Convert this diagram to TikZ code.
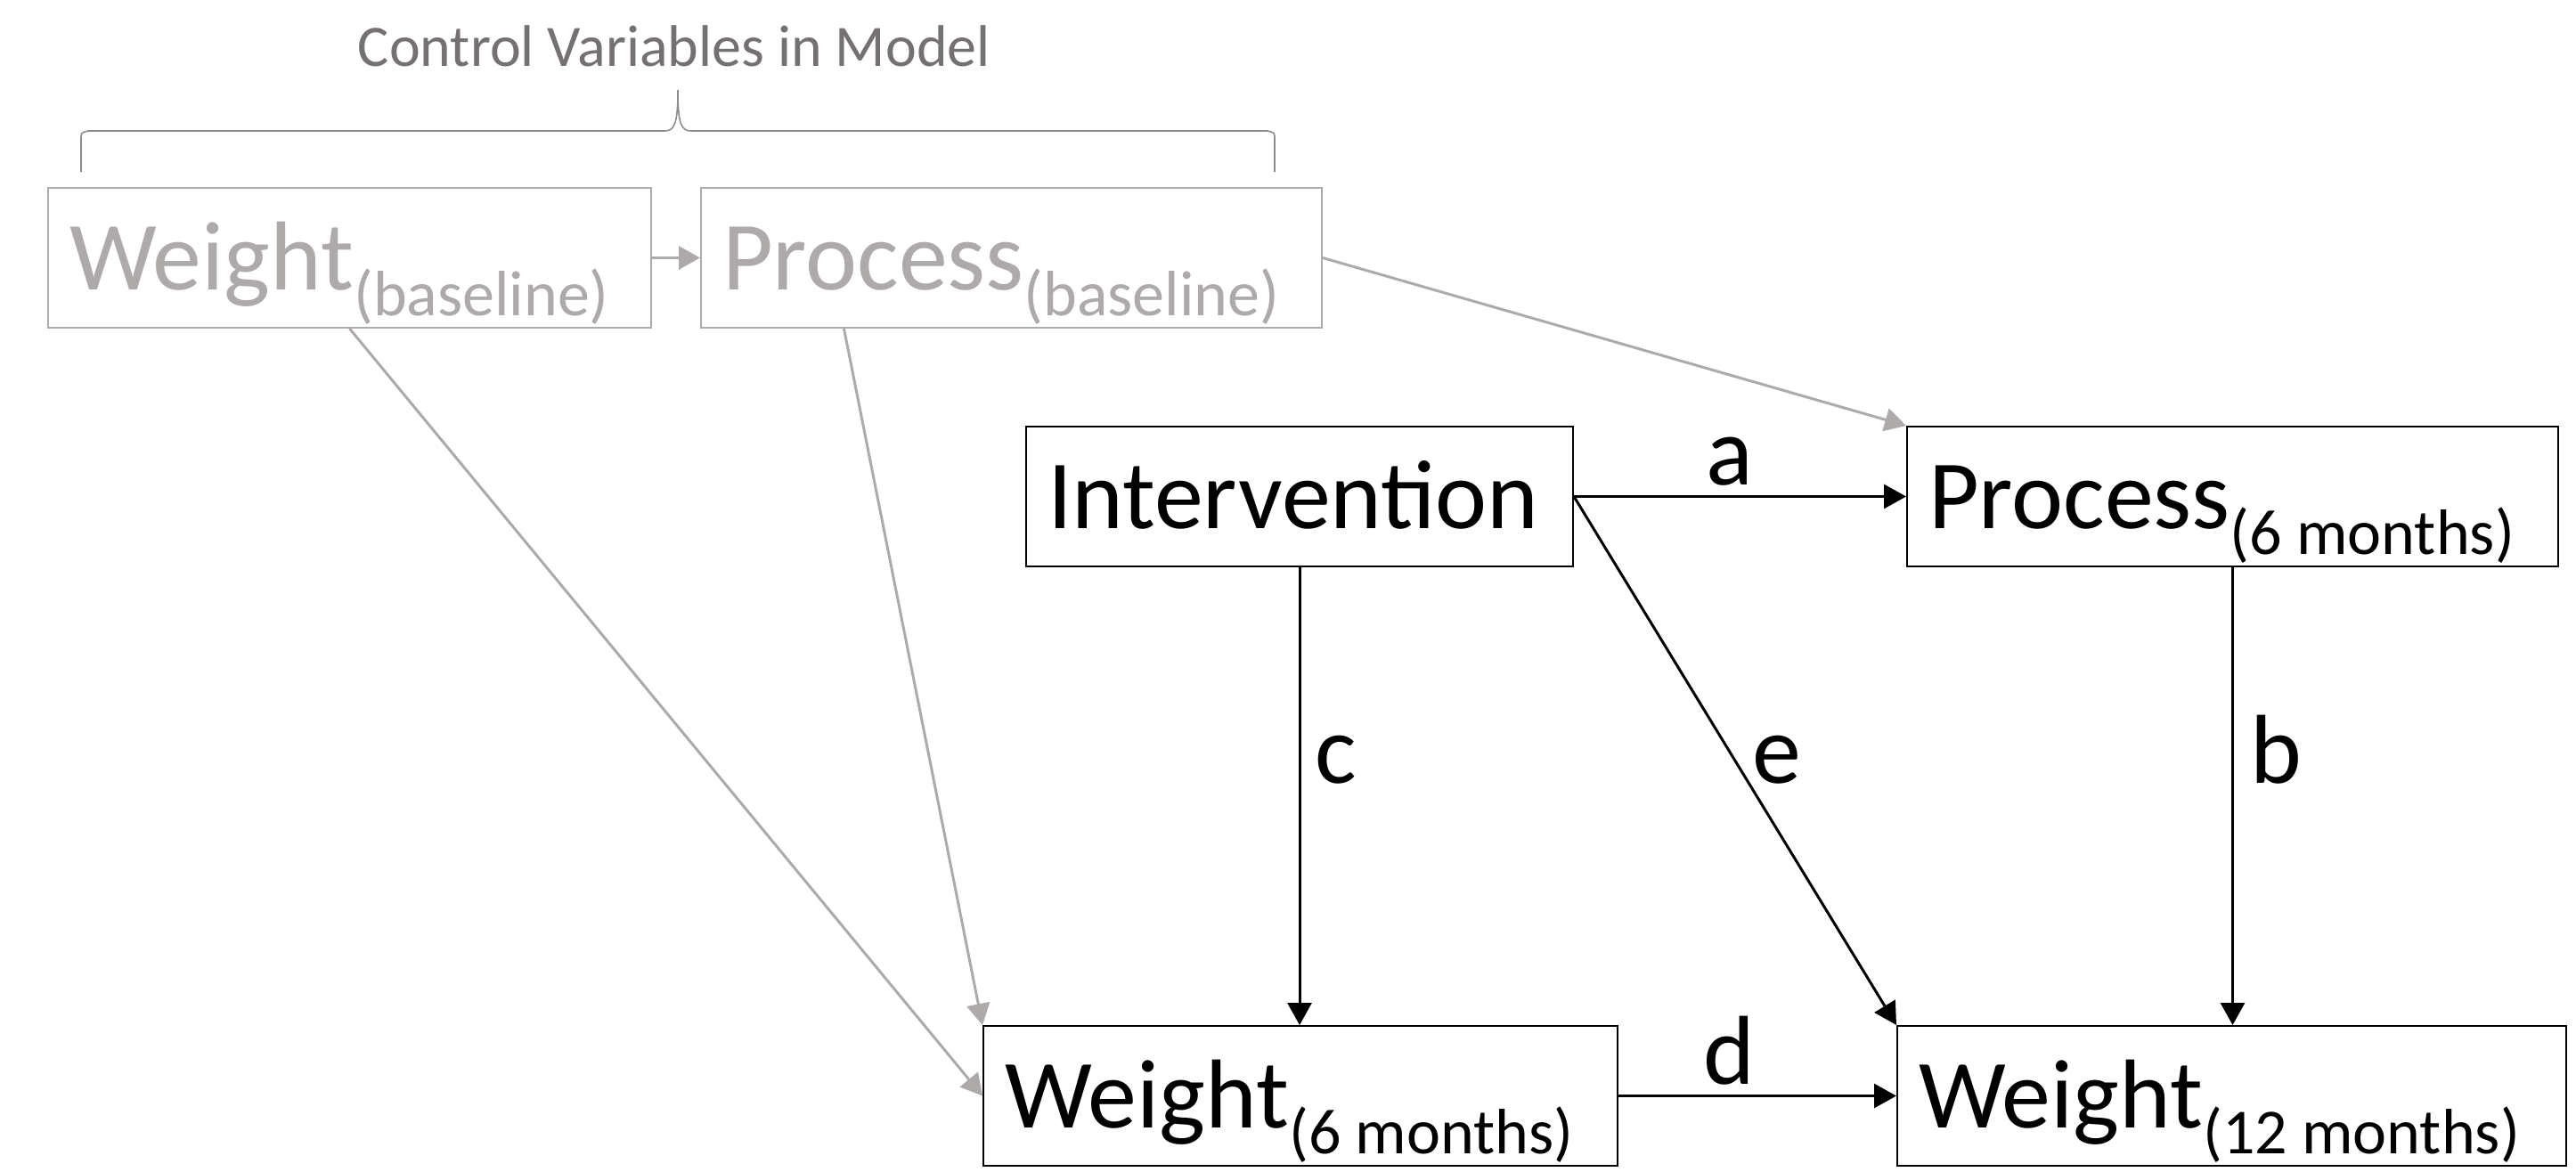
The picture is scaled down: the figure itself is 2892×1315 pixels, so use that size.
\documentclass[tikz,border=0pt]{standalone}
\usepackage{fontspec}
\setmainfont{Carlito}
\usetikzlibrary{arrows.meta,calc}
\definecolor{ltgray}{HTML}{AEAAAA}
\definecolor{dkgray}{HTML}{767171}
\definecolor{bracegray}{HTML}{8C8C8C}
\newcommand\lowsub[1]{\raisebox{-29pt}{\fontsize{72pt}{72pt}\selectfont\spaceskip=0pt\xspaceskip=0pt\relax #1}}
\tikzset{
  varbox/.style={draw, line width=2pt, anchor=north west, inner xsep=24pt, inner ysep=0pt,
    text height=114pt, text depth=43pt,
    font=\fontsize{110pt}{110pt}\selectfont},
  ctrlbox/.style={varbox, draw=ltgray, text=ltgray},
  mainbox/.style={varbox, draw=black, text=black},
  mainarrow/.style={draw=black, line width=3pt, -{Triangle[length=25pt,width=27pt]}},
  ctrlarrow/.style={draw=ltgray, line width=3pt, -{Triangle[length=24pt,width=26pt]}},
  pathlabel/.style={anchor=base, inner sep=0pt, font=\fontsize{110pt}{110pt}\selectfont},
}
\begin{document}
\begin{tikzpicture}[x=1pt,y=-1pt]
\useasboundingbox (0,0) rectangle (2892,1315);

% title and brace
\node[anchor=base, inner sep=0pt, text=dkgray, font=\fontsize{66pt}{66pt}\selectfont] (title) at (757,74) {Control Variables in Model};
\draw[bracegray, line width=1.6pt] (91,193) -- (91,156) .. controls (91,149) .. (99,147) -- (746,147)
  .. controls (757,147) and (761,140) .. (761,101)
  .. controls (761,140) and (765,147) .. (776,147) -- (1423,147)
  .. controls (1431,149) .. (1431,156) -- (1431,193);

% boxes
\node[ctrlbox, text width=629pt] (wb) at (53,210) {Weight\lowsub{(baseline)}};
\node[ctrlbox, text width=649pt] (pb) at (786,210) {Process\lowsub{(baseline)}};
\node[mainbox, text width=566pt] (int) at (1151,478) {Intervention};
\node[mainbox, text width=683pt] (p6) at (2140,478) {Process\lowsub{(6 months)}};
\node[mainbox, text width=664pt] (w6) at (1103,1151) {Weight\lowsub{(6 months)}};
\node[mainbox, text width=703pt] (w12) at (2129,1151) {Weight\lowsub{(12 months)}};

% control arrows
\coordinate (pbs) at ($(pb.south west)!0.231!(pb.south east)$);
\draw[ctrlarrow] (wb.east) -- (pb.west);
\draw[ctrlarrow] (pb.east) -- (p6.north west);
\draw[ctrlarrow] (wb.south) -- (w6.west);
\draw[ctrlarrow] (pbs) -- (w6.north west);

% main arrows
\draw[mainarrow] (int.east) -- (p6.west);
\draw[mainarrow] (int.south) -- (int.south |- w6.north);
\draw[mainarrow] (p6.south) -- (p6.south |- w12.north);
\draw[mainarrow] (int.east) -- (w12.north west);
\draw[mainarrow] (w6.east) -- (w12.west);

% path labels
\node[pathlabel] (la) at (1942,544) {a};
\node[pathlabel] (lb) at (2555,879) {b};
\node[pathlabel] (lc) at (1500,879) {c};
\node[pathlabel] (ld) at (1941,1217) {d};
\node[pathlabel] (le) at (1995,879) {e};
\end{tikzpicture}
\end{document}
